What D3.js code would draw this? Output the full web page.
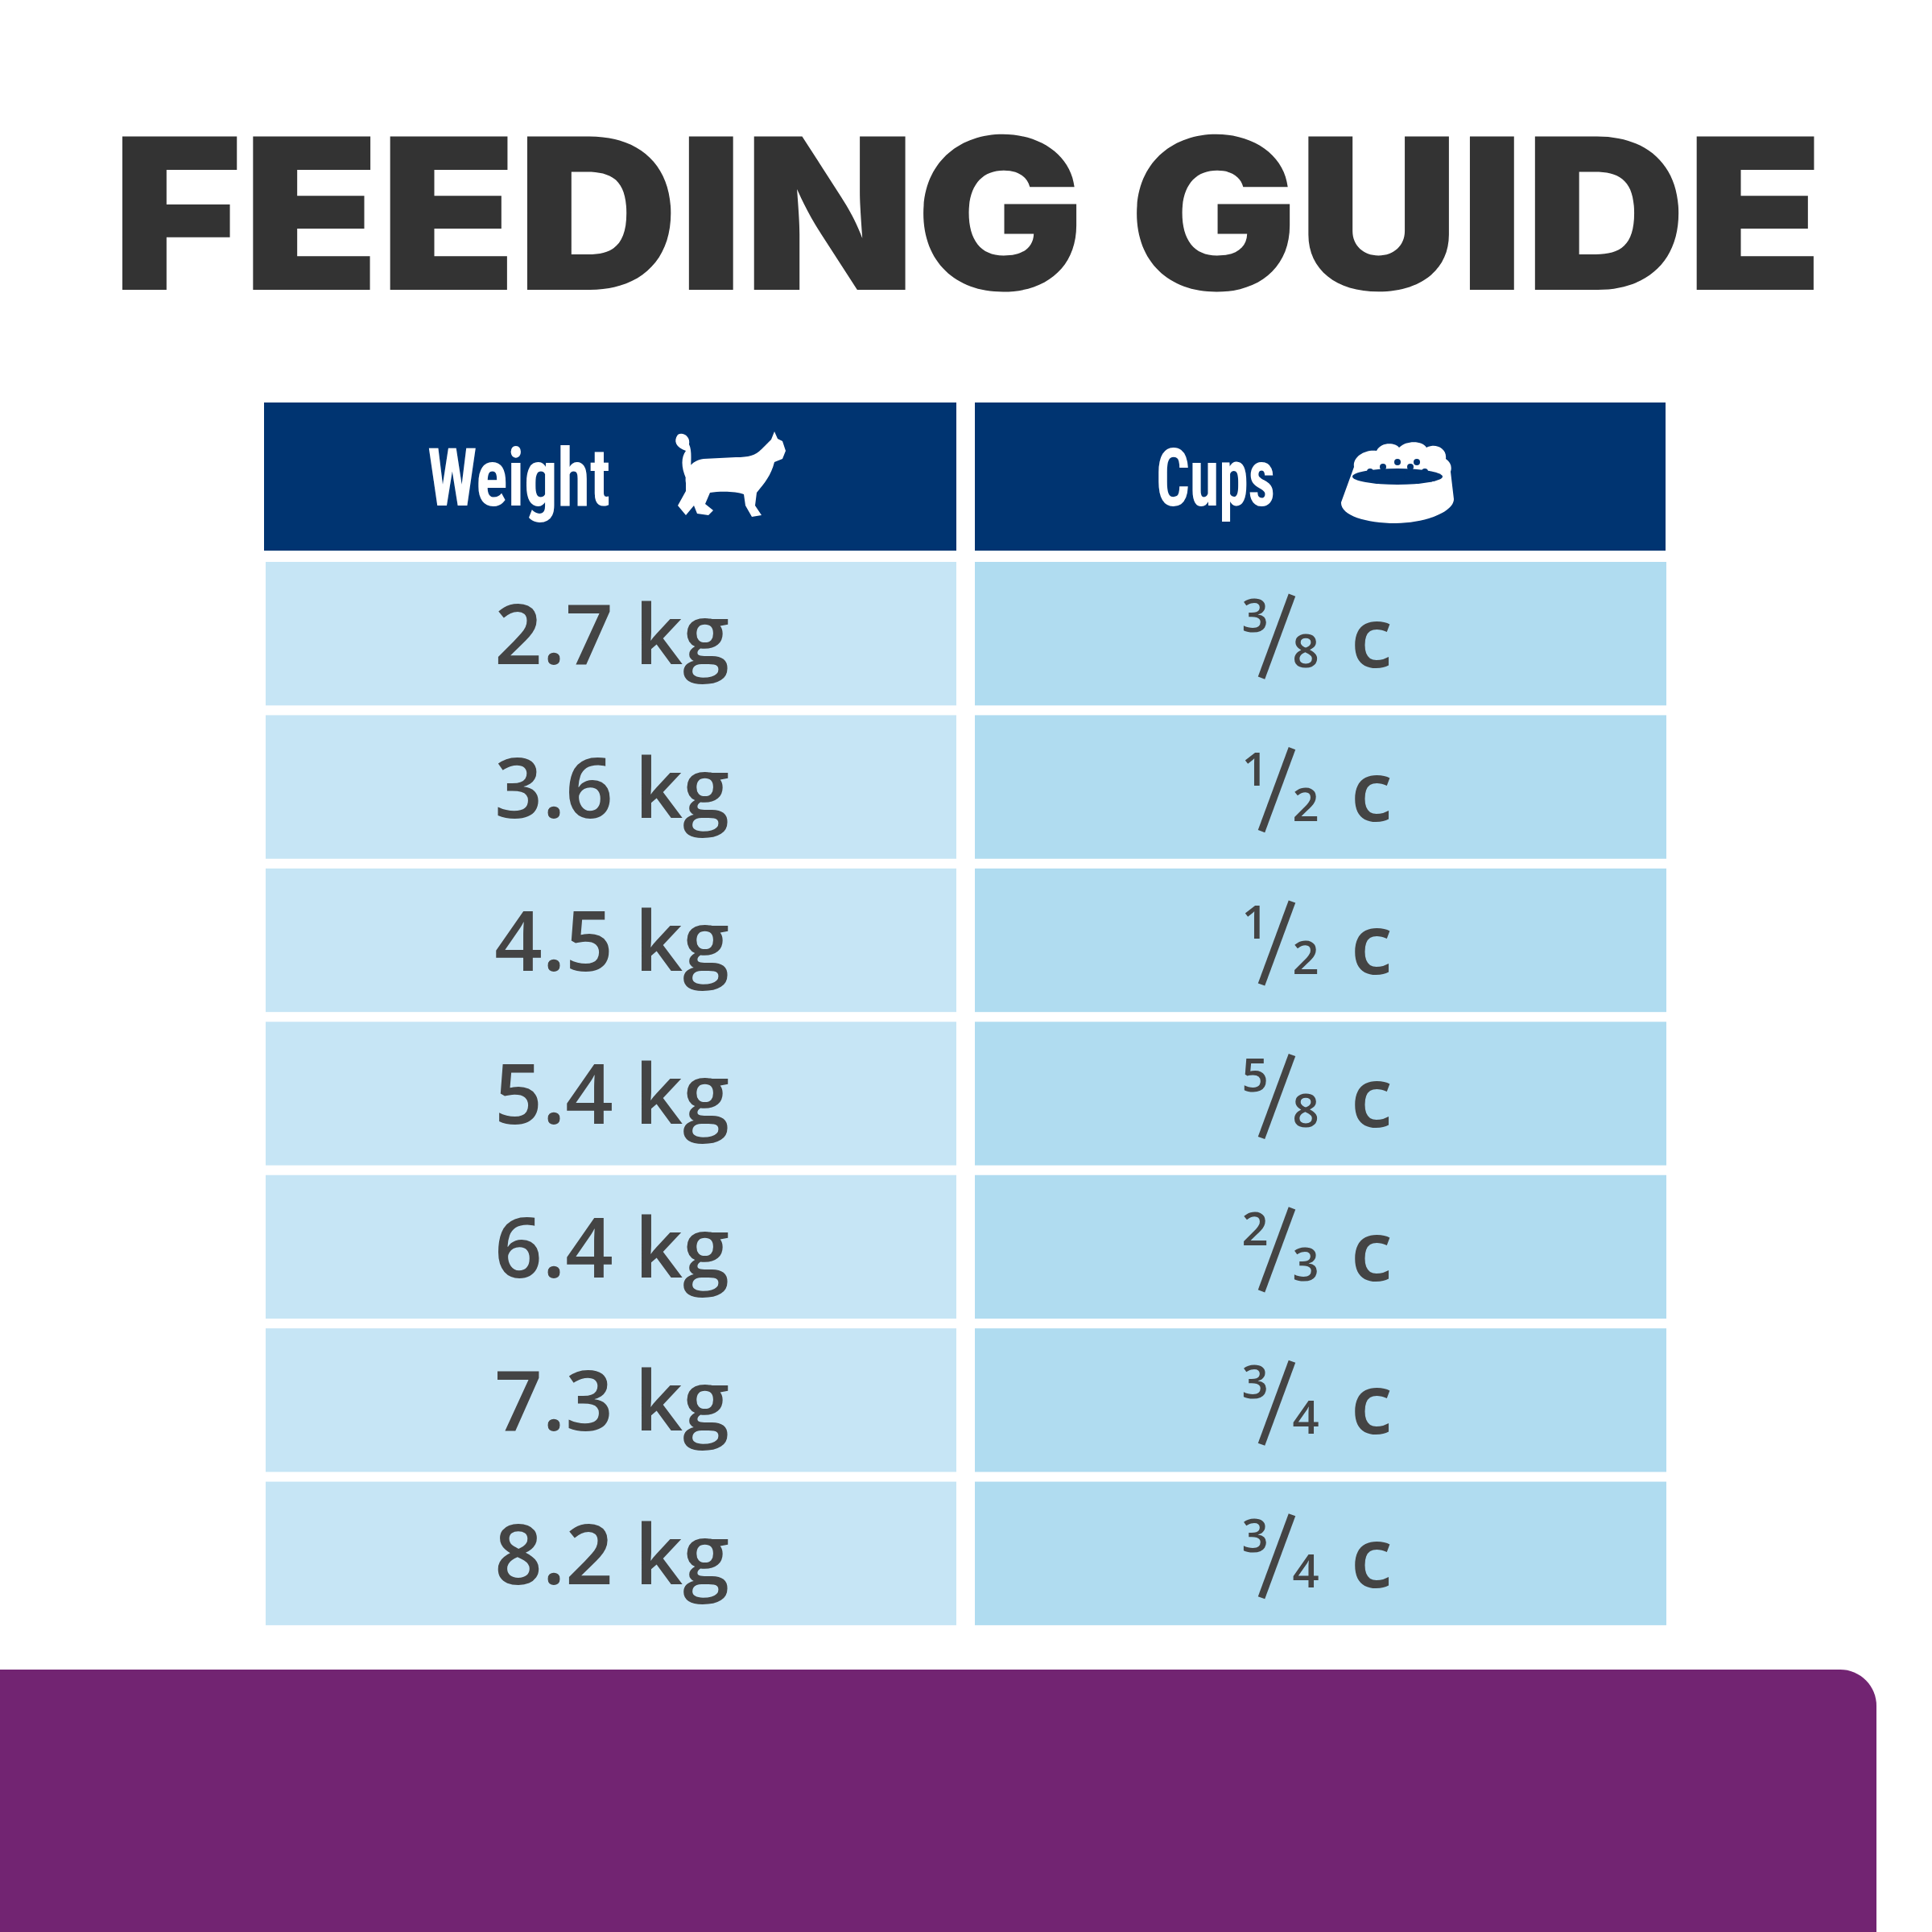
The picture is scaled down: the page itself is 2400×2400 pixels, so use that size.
<!DOCTYPE html>
<html><head><meta charset="utf-8">
<script src="https://cdn.jsdelivr.net/npm/d3@7"></script>
<style>body{margin:0;background:#fff}</style>
</head><body>
<script>
const title = "FEEDING GUIDE";
const headers = ["Weight", "Cups"];
const weights = ["2.7 kg","3.6 kg","4.5 kg","5.4 kg","6.4 kg","7.3 kg","8.2 kg"];
const cupNum = ["3","1","1","5","2","3","3"];
const cupDen = ["8","2","2","8","3","4","4"];

const W=2400,H=2400;
const svg=d3.select("body").append("svg").attr("width",W).attr("height",H);
svg.append("rect").attr("width",W).attr("height",H).attr("fill","#fff");

svg.append("text").text(title).attr("x",139).attr("y",360)
 .attr("textLength",2126).attr("lengthAdjust","spacingAndGlyphs")
 .attr("font-family","Inter, 'Open Sans', sans-serif").attr("font-weight",900)
 .attr("font-size",262).attr("fill","#333");

// columns
const colX=[328,1211], colW=[860,858];
svg.selectAll(".hdr").data(headers).join("rect")
 .attr("x",(d,i)=>colX[i]).attr("y",500).attr("width",(d,i)=>colW[i]).attr("height",184).attr("fill","#003471");
const hx=[531,1436], hw=[227,148];
svg.selectAll(".ht").data(headers).join("text").text(d=>d)
 .attr("x",(d,i)=>hx[i]).attr("y",628).attr("textLength",(d,i)=>hw[i]).attr("lengthAdjust","spacingAndGlyphs")
 .attr("font-family","'Liberation Sans Narrow','Roboto Condensed','DejaVu Sans Condensed',sans-serif")
 .attr("font-weight",700).attr("font-size",100).attr("fill","#fff");

// cat icon
svg.append("path").attr("fill","#fff").attr("d",
 "M852,600 C850,585 858,572 874,570 L914,568 C930,568 938,566 946,558 L958,546 L962,536 L966,545 L972,548 L976,560 L972,570 L962,574 C958,590 950,600 940,612 L938,628 L946,640 L934,642 L926,628 L924,614 C914,610 894,610 882,612 L876,626 L886,634 L880,640 L866,638 L862,628 L852,640 L842,628 L852,610 Z M852,594 C846,580 846,568 852,560 C840,556 836,548 842,540 C848,536 858,542 856,552 C860,560 858,574 858,590 Z");
// bowl icon
const bowl=svg.append("g");
bowl.append("path").attr("fill","#fff").attr("d",
 "M1682,580 C1680,568 1695,558 1710,560 C1716,548 1734,550 1738,556 C1748,546 1768,548 1772,556 C1782,550 1798,556 1796,570 C1802,574 1804,580 1802,586 L1806,620 C1806,636 1770,650 1734,650 C1696,650 1665,640 1666,624 Z");
bowl.append("ellipse").attr("cx",1736).attr("cy",592).attr("rx",56).attr("ry",10).attr("fill","#003471");
[[1702,586],[1718,580],[1736,574],[1752,580],[1770,586],[1724,590],[1748,592],[1760,574]].forEach(p=>
 bowl.append("circle").attr("cx",p[0]).attr("cy",p[1]).attr("r",4).attr("fill","#003471"));

const y=d3.scaleBand().domain(d3.range(weights.length)).range([698,698+188.7*7]).paddingInner(12/188.7);
svg.selectAll(".lr").data(weights).join("rect").attr("x",330).attr("width",858)
 .attr("y",(d,i)=>y(i)).attr("height",y.bandwidth()).attr("fill","#c6e5f5");
svg.selectAll(".rr").data(weights).join("rect").attr("x",1211).attr("width",859)
 .attr("y",(d,i)=>y(i)).attr("height",y.bandwidth()).attr("fill","#b0dcf0");

const ff="'Open Sans', 'Noto Sans', sans-serif";
svg.selectAll(".wt").data(weights).join("text").text(d=>d)
 .attr("x",760).attr("y",(d,i)=>y(i)+y.bandwidth()/2+38).attr("text-anchor","middle")
 .attr("font-family",ff).attr("font-weight",600).attr("font-size",104).attr("fill","#444");

const g=svg.selectAll(".cp").data(cupNum).join("g").attr("transform",(d,i)=>`translate(1545,${y(i)+y.bandwidth()/2})`);
g.append("text").text(d=>d).attr("x",14).attr("y",-2).attr("text-anchor","middle")
 .attr("font-family",ff).attr("font-weight",600).attr("font-size",58).attr("fill","#444");
g.append("line").attr("x1",60).attr("y1",-48).attr("x2",22).attr("y2",55).attr("stroke","#444").attr("stroke-width",9);
g.append("text").text((d,i)=>cupDen[i]).attr("x",77).attr("y",42).attr("text-anchor","middle")
 .attr("font-family",ff).attr("font-weight",600).attr("font-size",58).attr("fill","#444");
g.append("text").text("c").attr("x",133).attr("y",42)
 .attr("font-family",ff).attr("font-weight",600).attr("font-size",104).attr("fill","#444");

// purple band
svg.append("path").attr("fill","#722472")
 .attr("d",`M0,2074 L2286,2074 A45,45 0 0 1 2331,2119 L2331,2400 L0,2400 Z`);
</script>
</body></html>
